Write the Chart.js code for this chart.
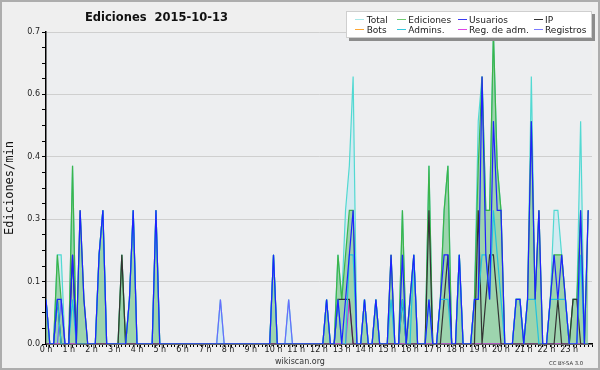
<!DOCTYPE html>
<html>
<head>
<meta charset="utf-8">
<title>Ediciones 2015-10-13</title>
<script src="https://cdn.jsdelivr.net/npm/chart.js@4.4.1/dist/chart.umd.min.js"></script>
<style>
  html, body { margin:0; padding:0; background:#efefef; }
  #wrap { position:relative; width:600px; height:370px; overflow:hidden; background:#efefef; }
  #chart { position:absolute; left:0; top:0; width:600px; height:370px; }
  #frame { position:absolute; left:0; top:0; width:600px; height:370px; box-sizing:border-box; border:2px solid #adadad; pointer-events:none; }
  #title { position:absolute; left:85px; top:9.7px; font:bold 11.5px 'DejaVu Sans', sans-serif; line-height:14px; color:#111; white-space:pre; }
  #legend { position:absolute; left:346px; top:11px; width:246px; height:27px; box-sizing:border-box; background:#fff; border:1px solid #cfcfcf; box-shadow:3px 3px 0 #8c8c8c; }
  .lg-item { position:absolute; font:9px 'DejaVu Sans', sans-serif; line-height:10px; color:#222; white-space:nowrap; }
  .lg-line { position:absolute; height:1.5px; width:9px; }
  #site { position:absolute; left:0; top:356.6px; width:600px; text-align:center; font:8px 'DejaVu Sans', sans-serif; line-height:10px; color:#333; }
  #cc { position:absolute; left:549px; top:359.8px; font:5.3px 'DejaVu Sans', sans-serif; line-height:6px; color:#333; white-space:nowrap; }
</style>
</head>
<body>
<div id="wrap">
  <canvas id="chart" width="600" height="370"></canvas>
  <div id="title">Ediciones  2015-10-13</div>
  <div id="legend"></div>
  <div id="site">wikiscan.org</div>
  <div id="cc">CC BY-SA 3.0</div>
  <div id="frame"></div>
</div>
<script>
// ---------- data (edits per minute, one value per 10-minute bin, 00:00 -> 23:50) ----------
const binMinutes = 10;
const hourLabels = ['0 h','1 h','2 h','3 h','4 h','5 h','6 h','7 h','8 h','9 h','10 h','11 h',
                    '12 h','13 h','14 h','15 h','16 h','17 h','18 h','19 h','20 h','21 h','22 h','23 h'];
const yTickValues = [0, 0.14, 0.28, 0.42, 0.56, 0.7];
const yMinorStep = 0.035;

const total = [
  0.1,0,0,0.2,0.2,0,0,0.4,0,0.3,0.1,0,
  0,0,0.2,0.3,0,0,0,0,0.2,0,0.1,0.3,
  0,0,0,0,0,0.3,0,0,0,0,0,0,
  0,0,0,0,0,0,0,0,0,0,0.1,0,
  0,0,0,0,0,0,0,0,0,0,0,0,
  0.2,0,0,0,0.1,0,0,0,0,0,0,0,
  0,0,0.1,0,0,0.2,0.1,0.3,0.4,0.6,0,0,
  0.1,0,0,0.1,0,0,0,0.2,0,0,0.3,0,
  0.1,0.2,0,0,0,0.4,0,0,0.1,0.3,0.4,0,
  0,0.2,0,0,0,0.1,0.5,0.6,0.3,0.3,0.7,0.4,
  0.3,0,0,0,0.1,0.1,0,0.1,0.6,0.1,0.3,0,
  0,0.1,0.3,0.3,0.2,0.1,0,0.1,0.1,0.5,0,0.3
];
const ediciones = [
  0.1,0,0,0.2,0.1,0,0,0.4,0,0.3,0.1,0,
  0,0,0.2,0.3,0,0,0,0,0.2,0,0.1,0.3,
  0,0,0,0,0,0.3,0,0,0,0,0,0,
  0,0,0,0,0,0,0,0,0,0,0,0,
  0,0,0,0,0,0,0,0,0,0,0,0,
  0.2,0,0,0,0,0,0,0,0,0,0,0,
  0,0,0.1,0,0,0.2,0.1,0.2,0.3,0.3,0,0,
  0.1,0,0,0.1,0,0,0,0.2,0,0,0.3,0,
  0.1,0.2,0,0,0,0.4,0,0,0.1,0.3,0.4,0,
  0,0.2,0,0,0,0.1,0.4,0.6,0.3,0.3,0.7,0.4,
  0.3,0,0,0,0.1,0.1,0,0.1,0.5,0.1,0.3,0,
  0,0.1,0.2,0.2,0.2,0.1,0,0.1,0.1,0.3,0,0.3
];
const usuarios = [
  0.1,0,0,0.1,0.1,0,0,0.2,0,0.3,0.1,0,
  0,0,0.2,0.3,0,0,0,0,0,0,0.1,0.3,
  0,0,0,0,0,0.3,0,0,0,0,0,0,
  0,0,0,0,0,0,0,0,0,0,0,0,
  0,0,0,0,0,0,0,0,0,0,0,0,
  0.2,0,0,0,0,0,0,0,0,0,0,0,
  0,0,0.1,0,0,0.1,0,0.1,0.2,0.3,0,0,
  0.1,0,0,0.1,0,0,0,0.2,0,0,0.2,0,
  0.1,0.2,0,0,0,0.1,0,0,0.1,0.2,0.2,0,
  0,0.2,0,0,0,0.1,0.1,0.6,0.2,0.1,0.5,0.3,
  0.3,0,0,0,0.1,0.1,0,0.1,0.5,0.1,0.3,0,
  0,0.1,0.2,0.1,0.2,0.1,0,0,0,0.3,0,0.3
];
const ip = [
  0,0,0,0.1,0,0,0,0.2,0,0,0,0,
  0,0,0,0,0,0,0,0,0.2,0,0,0,
  0,0,0,0,0,0,0,0,0,0,0,0,
  0,0,0,0,0,0,0,0,0,0,0,0,
  0,0,0,0,0,0,0,0,0,0,0,0,
  0,0,0,0,0,0,0,0,0,0,0,0,
  0,0,0,0,0,0.1,0.1,0.1,0.1,0,0,0,
  0,0,0,0,0,0,0,0,0,0,0.1,0,
  0,0,0,0,0,0.3,0,0,0,0.1,0.2,0,
  0,0,0,0,0,0,0.3,0,0.1,0.2,0.2,0.1,
  0,0,0,0,0,0,0,0,0,0,0,0,
  0,0,0,0.1,0,0,0,0.1,0.1,0,0,0
];
const bots = [
  0,0,0,0,0,0,0,0,0,0,0,0,
  0,0,0,0,0,0,0,0,0,0,0,0,
  0,0,0,0,0,0,0,0,0,0,0,0,
  0,0,0,0,0,0,0,0,0,0,0,0,
  0,0,0,0,0,0,0,0,0,0,0,0,
  0,0,0,0,0,0,0,0,0,0,0,0,
  0,0,0,0,0,0,0,0,0,0,0,0,
  0,0,0,0,0,0,0,0,0,0,0,0,
  0,0,0,0,0,0,0,0,0,0,0,0,
  0,0,0,0,0,0,0,0,0,0,0,0,
  0,0,0,0,0,0,0,0,0,0,0,0,
  0,0,0,0,0,0,0,0,0,0,0,0
];
const admins = [
  0.1,0,0,0.1,0,0,0,0.1,0,0,0,0,
  0,0,0.2,0.3,0,0,0,0,0,0,0.1,0.3,
  0,0,0,0,0,0.3,0,0,0,0,0,0,
  0,0,0,0,0,0,0,0,0,0,0,0,
  0,0,0,0,0,0,0,0,0,0,0,0,
  0.2,0,0,0,0,0,0,0,0,0,0,0,
  0,0,0.1,0,0,0.1,0,0,0.2,0.2,0,0,
  0.1,0,0,0.1,0,0,0,0.1,0,0,0.1,0,
  0,0.2,0,0,0,0.1,0,0,0.1,0.1,0.1,0,
  0,0.2,0,0,0,0.1,0.1,0.2,0.2,0.1,0.3,0.2,
  0.1,0,0,0,0.1,0.1,0,0.1,0.1,0.1,0,0,
  0,0.1,0.1,0.1,0.1,0.1,0,0,0,0.2,0,0
];
const regAdm = [
  0,0,0,0,0,0,0,0,0,0,0,0,
  0,0,0,0,0,0,0,0,0,0,0,0,
  0,0,0,0,0,0,0,0,0,0,0,0,
  0,0,0,0,0,0,0,0,0,0,0,0,
  0,0,0,0,0,0,0,0,0,0,0,0,
  0,0,0,0,0,0,0,0,0,0,0,0,
  0,0,0,0,0,0,0,0,0.1,0,0,0,
  0,0,0,0,0,0,0,0,0,0,0,0,
  0,0,0,0,0,0,0,0,0,0,0,0,
  0,0,0,0,0,0,0,0,0,0,0,0,
  0,0,0,0,0,0,0,0,0,0,0,0,
  0,0,0,0,0,0,0,0,0,0,0,0
];
const registros = [
  0,0,0,0,0.1,0,0,0,0,0,0,0,
  0,0,0,0,0,0,0,0,0,0,0,0,
  0,0,0,0,0,0,0,0,0,0,0,0,
  0,0,0,0,0,0,0,0,0,0,0.1,0,
  0,0,0,0,0,0,0,0,0,0,0,0,
  0,0,0,0,0.1,0,0,0,0,0,0,0,
  0,0,0,0,0,0,0,0,0,0,0,0,
  0,0,0,0,0,0,0,0,0,0,0,0,
  0,0,0,0,0,0,0,0,0,0,0,0,
  0,0,0,0,0,0,0,0,0,0,0,0,
  0,0,0,0,0,0,0,0,0,0,0,0,
  0,0,0,0,0,0,0,0,0,0,0,0
];

// ---------- styling ----------
const seriesDefs = [
  { label:'Total',        values: total,     color:'#52d9d2', legend:'#a8e8e8', fill:'rgba(175,228,242,0.40)', order:8 },
  { label:'Ediciones',    values: ediciones, color:'#3cb44a', legend:'#72cc72', fill:'rgba(80,180,80,0.42)',   order:7 },
  { label:'Usuarios',     values: usuarios,  color:'#1f22ff', legend:'#3a3af0', fill:null, order:1 },
  { label:'IP',           values: ip,        color:'#333333', legend:'#333333', fill:null, order:3 },
  { label:'Bots',         values: bots,      color:'#ffa31a', legend:'#ffa733', fill:null, order:6 },
  { label:'Admins.',      values: admins,    color:'#22c3dd', legend:'#33c8dd', fill:null, order:2 },
  { label:'Reg. de adm.', values: regAdm,    color:'#cc33dd', legend:'#dd44e6', fill:null, order:4 },
  { label:'Registros',    values: registros, color:'#6b6bff', legend:'#7a7aff', fill:null, order:5 }
];

const xValues = total.map((_, i) => i * binMinutes);
const toPoints = arr => arr.map((v, i) => ({ x: xValues[i], y: v }));

const FONT = "'DejaVu Sans', sans-serif";

const bgPlugin = {
  id: 'plotBg',
  beforeDraw(chart) {
    const { ctx, chartArea: a } = chart;
    ctx.save();
    ctx.fillStyle = '#edeef0';
    ctx.fillRect(a.left, a.top, a.right - a.left, a.bottom - a.top);
    ctx.restore();
  }
};

const isMajorY = v => yTickValues.some(t => Math.abs(t - v) < 1e-6);

new Chart(document.getElementById('chart'), {
  type: 'line',
  data: {
    datasets: seriesDefs.map(s => ({
      label: s.label,
      data: toPoints(s.values),
      borderColor: s.color,
      backgroundColor: s.fill || s.color,
      fill: s.fill ? 'origin' : false,
      borderWidth: 1.2,
      pointRadius: 0,
      pointHoverRadius: 0,
      tension: 0,
      order: s.order
    }))
  },
  options: {
    responsive: false,
    animation: false,
    devicePixelRatio: 1,
    events: [],
    layout: { padding: { left: 0, top: 32, right: 8, bottom: 0 } },
    plugins: { legend: { display: false }, tooltip: { enabled: false }, title: { display: false } },
    scales: {
      x: {
        type: 'linear',
        min: 0,
        max: 24 * 60,
        z: 1,
        afterBuildTicks: s => {
          const t = [];
          for (let m = 0; m <= 24 * 60; m += binMinutes) t.push({ value: m });
          s.ticks = t;
        },
        ticks: {
          autoSkip: false,
          maxRotation: 0,
          padding: 0,
          color: '#222',
          font: { family: FONT, size: 8, lineHeight: 0.8 },
          callback: v => (v % 60 === 0 && hourLabels[v / 60]) ? hourLabels[v / 60] : ''
        },
        grid: { drawOnChartArea: false, drawTicks: true, tickLength: 3, tickColor: '#000', tickWidth: 1 },
        border: { display: true, color: '#000', width: 1.5 },
        afterFit: s => { s.height = 26; }
      },
      y: {
        type: 'linear',
        min: 0,
        max: 0.7,
        afterBuildTicks: s => {
          const t = [];
          for (let k = 0; k * yMinorStep <= 0.7 + 1e-9; k++) {
            const v = +(k * yMinorStep).toFixed(4);
            t.push({ value: v, major: isMajorY(v) });
          }
          s.ticks = t;
        },
        ticks: {
          autoSkip: false,
          padding: 2,
          color: '#222',
          font: { family: FONT, size: 8 },
          callback: v => isMajorY(v) ? v.toFixed(1) : ''
        },
        grid: {
          color: c => (c.tick && isMajorY(c.tick.value)) ? '#cfcfcf' : 'rgba(0,0,0,0)',
          lineWidth: 1,
          tickColor: '#000',
          tickLength: 4,
          drawTicks: true
        },
        border: { display: true, color: '#000', width: 1.5 },
        title: {
          display: true,
          text: 'Ediciones/min',
          color: '#111',
          font: { family: "'DejaVu Sans Mono', monospace", size: 12 },
          padding: { top: 3, bottom: 0 }
        },
        afterFit: s => { s.width = 46; }
      }
    }
  },
  plugins: [bgPlugin]
});

// ---------- legend (HTML, 4 columns x 2 rows) ----------
const legendEl = document.getElementById('wrap');
const colText = [366.7, 408.3, 469, 545];
const rowTop = [14.5, 24.5];
seriesDefs.forEach((s, i) => {
  const col = i % 4, row = Math.floor(i / 4);
  const line = document.createElement('div');
  line.className = 'lg-line';
  line.style.left = (colText[col] - 11.5) + 'px';
  line.style.top = (rowTop[row] + 4.2) + 'px';
  line.style.background = s.legend;
  legendEl.appendChild(line);
  const txt = document.createElement('div');
  txt.className = 'lg-item';
  txt.style.left = colText[col] + 'px';
  txt.style.top = rowTop[row] + 'px';
  txt.textContent = s.label;
  legendEl.appendChild(txt);
});
legendEl.appendChild(document.getElementById('frame'));
</script>
</body>
</html>
